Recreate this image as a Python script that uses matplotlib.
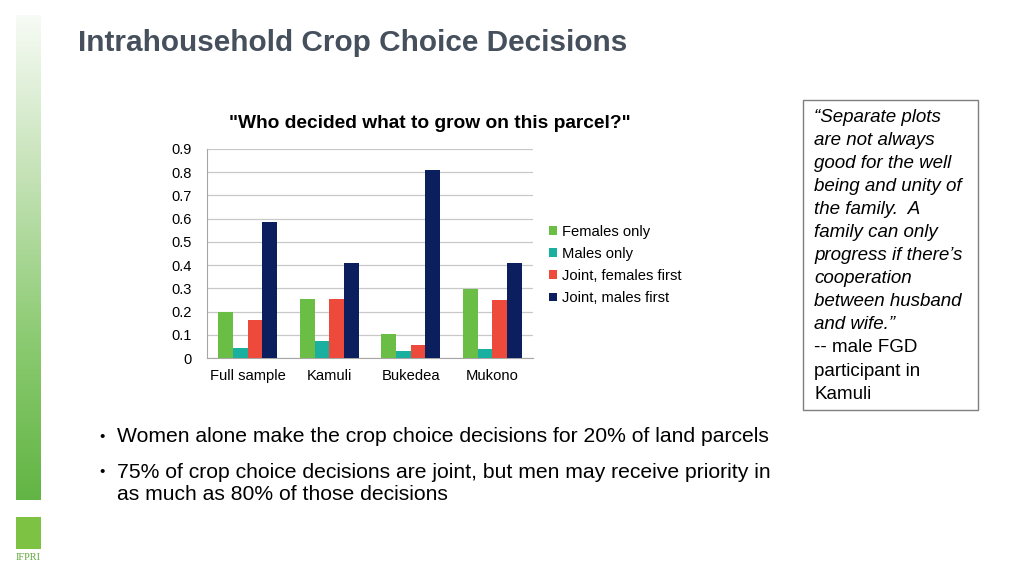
import numpy as np
import matplotlib.pyplot as plt
from matplotlib.colors import LinearSegmentedColormap
from matplotlib.patches import Rectangle

plt.rcParams['font.family'] = ['Liberation Sans', 'DejaVu Sans']

# --- data ---
categories = ['Full sample', 'Kamuli', 'Bukedea', 'Mukono']
series_names = ['Females only', 'Males only', 'Joint, females first', 'Joint, males first']
females_only = [0.200, 0.253, 0.105, 0.297]
males_only = [0.045, 0.073, 0.030, 0.037]
joint_females_first = [0.165, 0.255, 0.056, 0.249]
joint_males_first = [0.587, 0.410, 0.808, 0.408]
yticks = [0, 0.1, 0.2, 0.3, 0.4, 0.5, 0.6, 0.7, 0.8, 0.9]

colors = ['#6abd45', '#19b0a0', '#ee4a3c', '#0b1f5e']
series = [females_only, males_only, joint_females_first, joint_males_first]

W, H = 1024, 576
fig = plt.figure(figsize=(W / 100, H / 100), dpi=100)
fig.patch.set_facecolor('white')

def fx(px):
    return px / W

def fy(py):
    return 1 - py / H

# left gradient strip
grad_ax = fig.add_axes([fx(16), fy(500), fx(25), (500 - 15) / H])
cmap = LinearSegmentedColormap.from_list('strip', ['#f7fbf5', '#c4e2b6', '#8ccb72', '#62b544'])
grad_ax.imshow(np.linspace(0, 1, 256).reshape(-1, 1), aspect='auto', cmap=cmap)
grad_ax.axis('off')

# logo
fig.patches.append(Rectangle((fx(16), fy(549)), fx(25), 32 / H, transform=fig.transFigure,
                             facecolor='#7dc242', edgecolor='none'))
fig.text(fx(28.5), fy(557), 'IFPRI', fontsize=7.5, color='#5fa838', ha='center', va='center',
         family='Liberation Serif')

# slide title
fig.text(fx(78), fy(43), 'Intrahousehold Crop Choice Decisions', fontsize=21.4, fontweight='bold',
         color='#45505c', ha='left', va='center')

# chart
ax = fig.add_axes([fx(207), fy(358), fx(533 - 207), (358 - 149) / H])
x = np.arange(len(categories))
bw = 0.18
for i, (vals, name, c) in enumerate(zip(series, series_names, colors)):
    ax.bar(x + (i - 1.5) * bw, vals, width=bw, color=c, label=name, zorder=3)

ax.set_xlim(-0.5, len(categories) - 0.5)
ax.set_ylim(0, 0.9)
ax.set_yticks(yticks)
ax.set_yticklabels(['0'] + [f'{v:.1f}' for v in yticks[1:]], fontsize=10.5)
ax.set_xticks(x)
ax.set_xticklabels(categories, fontsize=10.6)
ax.tick_params(axis='both', length=0, pad=8, colors='#000000')
ax.tick_params(axis='y', pad=11)
ax.grid(axis='y', color='#c8c8c8', linewidth=0.9, zorder=0)
for s in ['top', 'right']:
    ax.spines[s].set_visible(False)
ax.spines['left'].set_color('#a6a6a6')
ax.spines['bottom'].set_color('#a6a6a6')

fig.text(fx(430), fy(123), '"Who decided what to grow on this parcel?"', fontsize=13.8,
         fontweight='bold', ha='center', va='center')

handles, labels = ax.get_legend_handles_labels()
fig.legend(handles, labels, loc='upper left', bbox_to_anchor=(fx(543), fy(219)), frameon=False,
           fontsize=10.6, handlelength=0.55, handleheight=0.55, handletextpad=0.35, labelspacing=0.55,
           borderaxespad=0)

# quote box
fig.patches.append(Rectangle((fx(803), fy(410)), fx(978 - 803), (410 - 100) / H,
                             transform=fig.transFigure, facecolor='white', edgecolor='#7f7f7f',
                             linewidth=1))
quote_lines = ['\u201cSeparate plots', 'are not always', 'good for the well',
               'being and unity of', 'the family.  A', 'family can only',
               'progress if there\u2019s', 'cooperation', 'between husband', 'and wife.\u201d']
attrib_lines = ['-- male FGD', 'participant in', 'Kamuli']
for k, line in enumerate(quote_lines + attrib_lines):
    fig.text(fx(814), fy(117 + k * 23.1), line, fontsize=13.5,
             style='italic' if k < len(quote_lines) else 'normal', ha='left', va='center')

# bullets
bullets = [(437, '\u2022', 'Women alone make the crop choice decisions for 20% of land parcels'),
           (472, '\u2022', '75% of crop choice decisions are joint, but men may receive priority in'),
           (495, '', 'as much as 80% of those decisions')]
for yy, b, t in bullets:
    if b:
        fig.text(fx(99), fy(yy), b, fontsize=11, ha='left', va='center')
    fig.text(fx(117), fy(yy), t, fontsize=15.2, ha='left', va='center')

fig.savefig('out.png', dpi=100)
